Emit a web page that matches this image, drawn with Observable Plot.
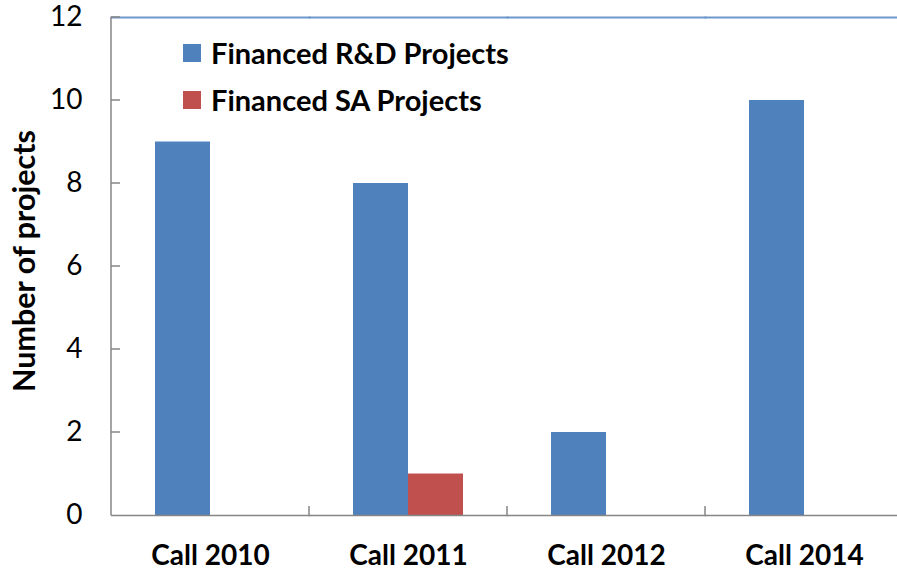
<!DOCTYPE html>
<html><head><meta charset="utf-8">
<script src="https://cdn.jsdelivr.net/npm/d3@7"></script>
<script src="https://cdn.jsdelivr.net/npm/@observablehq/plot@0.6"></script>
<style>
body{margin:0;background:#fff;}
#wrap{position:relative;width:897px;height:571px;overflow:hidden;background:#fff;}
.lg{position:absolute;left:183px;font-family:Lato,sans-serif;font-weight:bold;font-size:29px;color:#000;display:flex;align-items:center;white-space:nowrap;height:18px;line-height:18px;}
.lg span.sw{display:inline-block;width:18px;height:18px;margin-right:10px;flex:none;}
.ytitle{position:absolute;left:23px;top:261px;transform:translate(-50%,-50%) rotate(-90deg);font-family:Lato,sans-serif;font-weight:bold;font-size:30.5px;white-space:nowrap;color:#000;line-height:1;}
</style></head><body><div id="wrap"></div>
<script>
const categories = ["Call 2010", "Call 2011", "Call 2012", "Call 2014"];
const series = ["Financed R&D Projects", "Financed SA Projects"];
const rdValues = [9, 8, 2, 10];
const saValues = [0, 1, 0, 0];
const yTicks = [0, 2, 4, 6, 8, 10, 12];
const colors = ["#4F81BD", "#C0504D"];
const yTitle = "Number of projects";

const data = categories.flatMap((c, i) => [
  {category: c, series: series[0], value: rdValues[i]},
  {category: c, series: series[1], value: saValues[i]}
]);

const plot = Plot.plot({
  width: 897, height: 571,
  marginTop: 17, marginBottom: 56, marginLeft: 111, marginRight: 0,
  style: {fontFamily: "Lato, sans-serif", fontSize: "28px", color: "#000", background: "#fff", overflow: "visible"},
  fx: {domain: categories, padding: 0, range: [111, 903], label: null},
  x: {domain: series, paddingInner: 0, paddingOuter: 0.768, axis: null},
  y: {domain: [0, 12], label: null},
  color: {domain: series, range: colors},
  marks: [
    Plot.barY(data, {fx: "category", x: "series", y: "value", fill: "series"}),
    Plot.frame({anchor: "top", stroke: "#6F97CC", strokeWidth: 2}),
    Plot.frame({anchor: "bottom", stroke: "#868686", strokeWidth: 1.5}),
    Plot.axisY(yTicks, {anchor: "left", tickSize: 0, tickPadding: 29, fontSize: 28, label: null}),
    Plot.axisFx({anchor: "bottom", tickSize: 0, tickPadding: 30, fontSize: 28, fontWeight: "bold", label: null})
  ]
});

const wrap = document.getElementById("wrap");
wrap.appendChild(plot);

// axis line and inner ticks from the plot's scales
const svg = d3.select(plot);
const y = plot.scale("y"), fx = plot.scale("fx");
const x0 = fx.range[0], yb = y.apply(0), yt = y.apply(12);
const g = svg.append("g").attr("stroke", "#868686").attr("stroke-width", 1.5);
g.append("line").attr("x1", x0).attr("x2", x0).attr("y1", yt).attr("y2", yb);
yTicks.slice(1).forEach(t => g.append("line").attr("x1", x0).attr("x2", x0 + 9).attr("y1", y.apply(t)).attr("y2", y.apply(t)));
categories.slice(1).forEach(c => {
  const xx = fx.apply(c);
  g.append("line").attr("x1", xx).attr("x2", xx).attr("y1", yb).attr("y2", yb - 9);
});

// legend overlay
series.forEach((s, i) => {
  const d = document.createElement("div");
  d.className = "lg";
  d.style.top = (44 + i * 47) + "px";
  d.innerHTML = `<span class="sw" style="background:${colors[i]}"></span>`;
  d.appendChild(document.createTextNode(s));
  wrap.appendChild(d);
});
const t = document.createElement("div");
t.className = "ytitle";
t.textContent = yTitle;
wrap.appendChild(t);
</script></body></html>
